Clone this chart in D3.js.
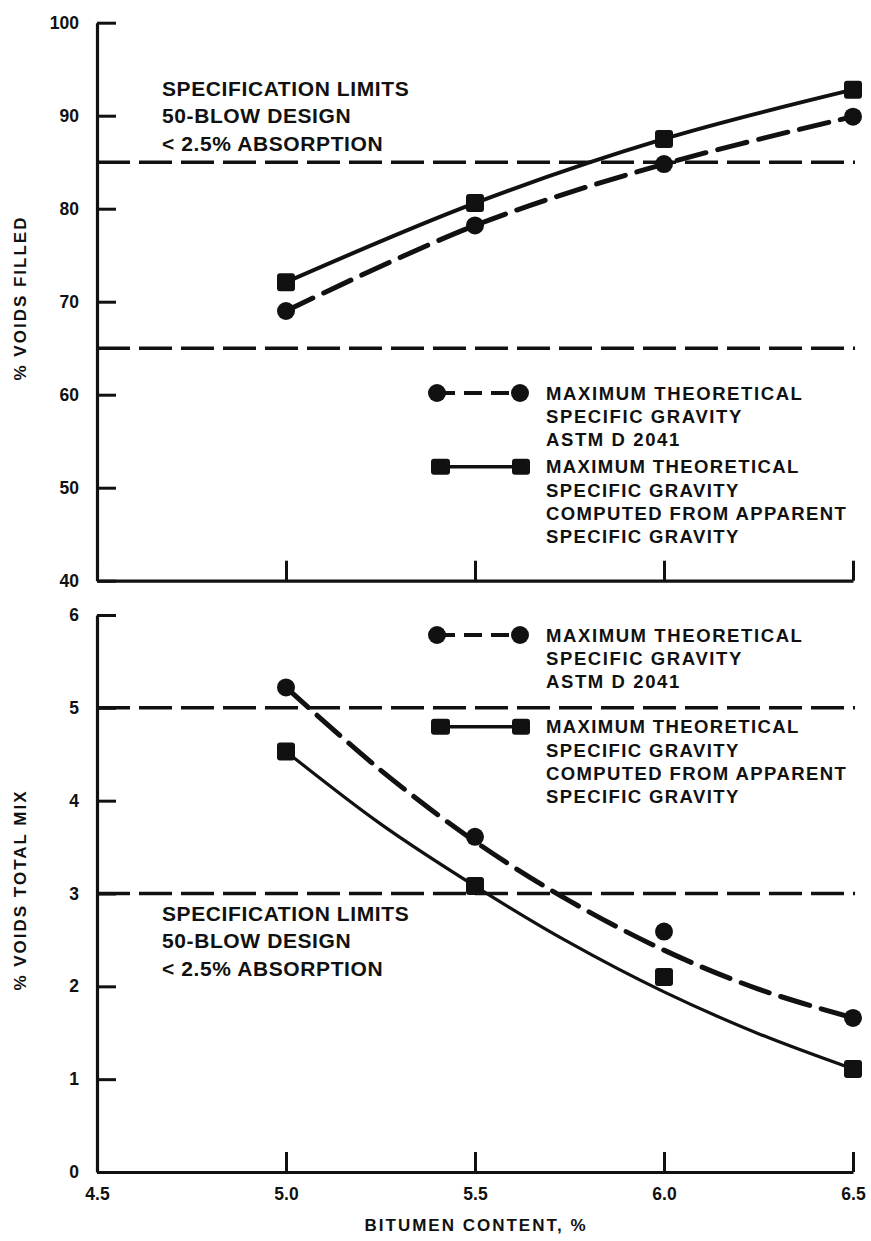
<!DOCTYPE html>
<html>
<head>
<meta charset="utf-8">
<script src="https://cdn.jsdelivr.net/npm/d3@7"></script>
<style>
  html, body { margin: 0; padding: 0; background: #fff; }
  svg { display: block; }
  text { font-family: "Liberation Sans", Arial, sans-serif; font-weight: bold; fill: #111; }
</style>
</head>
<body>
<svg id="chart" width="871" height="1241"></svg>
<script>
// Bitumen content (%) at which each mix was tested
const bitumen = [5.0, 5.5, 6.0, 6.5];

// % voids filled
const filledAstm = [69.0, 78.2, 84.8, 89.9];     // max. theoretical SG, ASTM D 2041
const filledApparent = [72.1, 80.6, 87.5, 92.8]; // max. theoretical SG from apparent SG

// % voids in total mix (measured points)
const voidsAstm = [5.22, 3.61, 2.59, 1.66];
const voidsApparent = [4.53, 3.08, 2.10, 1.11];

// Smoothed trend curves through the voids-total-mix results
const trendX = [5.0, 5.25, 5.5, 5.75, 6.0, 6.25, 6.5];
const trendAstm = [5.22, 4.33, 3.56, 2.92, 2.39, 1.97, 1.66];
const trendApparent = [4.53, 3.75, 3.08, 2.47, 1.94, 1.49, 1.11];

// Specification limits (50-blow design, < 2.5% absorption)
const filledLimits = [65, 85];
const voidsLimits = [3, 5];

// Axis ticks
const xTicks = [4.5, 5.0, 5.5, 6.0, 6.5];
const filledTicks = [40, 50, 60, 70, 80, 90, 100];
const voidsTicks = [0, 1, 2, 3, 4, 5, 6];

const legendLabels = {
  astm: ["MAXIMUM THEORETICAL", "SPECIFIC GRAVITY", "ASTM D 2041"],
  apparent: ["MAXIMUM THEORETICAL", "SPECIFIC GRAVITY", "COMPUTED FROM APPARENT", "SPECIFIC GRAVITY"]
};
const specLabel = ["SPECIFICATION LIMITS", "50-BLOW DESIGN", "< 2.5% ABSORPTION"];

const svg = d3.select("#chart");
const ink = "#111";

const x = d3.scaleLinear().domain([4.5, 6.5]).range([97, 853]);
const yTop = d3.scaleLinear().domain([40, 100]).range([580.7, 22.7]);
const yBot = d3.scaleLinear().domain([0, 6]).range([1172, 615]);

function styleAxis(g) {
  g.selectAll(".domain").attr("stroke", ink).attr("stroke-width", 3.2);
  g.selectAll(".tick line").attr("stroke", ink).attr("stroke-width", 3);
  g.selectAll(".tick text")
    .style("font-family", '"Liberation Sans", Arial, sans-serif')
    .style("font-weight", "bold")
    .style("font-size", "17.5px")
    .attr("fill", ink);
}

function panel(y, yTicks, limits, series, trends, legendRows, specRows, title, titleY) {
  // y axis with inward ticks
  svg.append("g")
    .attr("transform", `translate(${x(4.5)},0)`)
    .call(d3.axisLeft(y).tickValues(yTicks).tickSizeInner(-19).tickSizeOuter(0).tickPadding(18)
      .tickFormat(d3.format("d")))
    .call(styleAxis);

  // x axis with inward ticks
  const isBottom = y === yBot;
  svg.append("g")
    .attr("transform", `translate(0,${y.range()[0]})`)
    .call(d3.axisBottom(x).tickValues(xTicks).tickSizeInner(-20).tickSizeOuter(0).tickPadding(16)
      .tickFormat(isBottom ? d3.format(".1f") : () => ""))
    .call(styleAxis);

  // specification limit lines
  svg.append("g").selectAll("line").data(limits).join("line")
    .attr("x1", x(4.5)).attr("x2", x(6.5) + 2)
    .attr("y1", d => y(d)).attr("y2", d => y(d))
    .attr("stroke", ink).attr("stroke-width", 3.5)
    .attr("stroke-dasharray", "33 9");

  const line = d3.line().x(d => x(d[0])).y(d => y(d[1])).curve(d3.curveCatmullRom.alpha(0.5));

  // curves: dashed for ASTM, solid for apparent
  const curveData = trends || [
    bitumen.map((b, i) => [b, series[0][i]]),
    bitumen.map((b, i) => [b, series[1][i]])
  ];
  svg.append("path").datum(curveData[0])
    .attr("d", line).attr("fill", "none").attr("stroke", ink)
    .attr("stroke-width", 5).attr("stroke-dasharray", "30 12").attr("stroke-linecap", "round");
  svg.append("path").datum(curveData[1])
    .attr("d", line).attr("fill", "none").attr("stroke", ink)
    .attr("stroke-width", isBottom ? 3.2 : 4);

  // data markers
  svg.append("g").selectAll("circle").data(bitumen.map((b, i) => [b, series[0][i]])).join("circle")
    .attr("cx", d => x(d[0])).attr("cy", d => y(d[1])).attr("r", 9).attr("fill", ink);
  svg.append("g").selectAll("rect").data(bitumen.map((b, i) => [b, series[1][i]])).join("rect")
    .attr("x", d => x(d[0]) - 9).attr("y", d => y(d[1]) - 9)
    .attr("width", 18).attr("height", 18).attr("rx", 3).attr("fill", ink);

  // legend
  const lg = svg.append("g");
  const [rowA, rowB] = legendRows;
  lg.append("line").attr("x1", 437).attr("x2", 520).attr("y1", rowA).attr("y2", rowA)
    .attr("stroke", ink).attr("stroke-width", 4).attr("stroke-dasharray", "18 9");
  lg.append("circle").attr("cx", 437).attr("cy", rowA).attr("r", 9).attr("fill", ink);
  lg.append("circle").attr("cx", 520).attr("cy", rowA).attr("r", 9).attr("fill", ink);
  lg.append("line").attr("x1", 440).attr("x2", 520).attr("y1", rowB).attr("y2", rowB)
    .attr("stroke", ink).attr("stroke-width", 3.5);
  lg.append("rect").attr("x", 431).attr("y", rowB - 8).attr("width", 19).attr("height", 16).attr("rx", 3).attr("fill", ink);
  lg.append("rect").attr("x", 512).attr("y", rowB - 8).attr("width", 18).attr("height", 16).attr("rx", 3).attr("fill", ink);

  lg.selectAll("text.a").data(legendLabels.astm).join("text")
    .attr("x", 546).attr("y", (d, i) => rowA + i * 23).attr("dy", "0.36em")
    .style("font-size", "18.5px").style("letter-spacing", "1.6px").text(d => d);
  lg.selectAll("text.b").data(legendLabels.apparent).join("text")
    .attr("x", 546).attr("y", (d, i) => rowB + i * 23.3).attr("dy", "0.36em")
    .style("font-size", "18.5px").style("letter-spacing", "1.4px").text(d => d);

  // specification caption
  svg.append("g").selectAll("text").data(specLabel).join("text")
    .attr("x", 162).attr("y", (d, i) => specRows + i * 27.5).attr("dy", "0.36em")
    .style("font-size", "21px").style("letter-spacing", "0.6px").text(d => d);

  // axis title
  svg.append("text")
    .attr("transform", `translate(20,${titleY}) rotate(-90)`)
    .attr("text-anchor", "middle").attr("dy", "0.36em")
    .style("font-size", "17px").style("letter-spacing", "2px")
    .text(title);
}

panel(yTop, filledTicks, filledLimits, [filledAstm, filledApparent], null,
  [393, 466.7], 88, "% VOIDS FILLED", 298);

panel(yBot, voidsTicks, voidsLimits, [voidsAstm, voidsApparent],
  [trendX.map((t, i) => [t, trendAstm[i]]), trendX.map((t, i) => [t, trendApparent[i]])],
  [635, 726.7], 913, "% VOIDS TOTAL MIX", 890);

// x axis title
svg.append("text")
  .attr("x", 476).attr("y", 1225).attr("dy", "0.36em").attr("text-anchor", "middle")
  .style("font-size", "17px").style("letter-spacing", "2px")
  .text("BITUMEN CONTENT, %");
</script>
</body>
</html>
